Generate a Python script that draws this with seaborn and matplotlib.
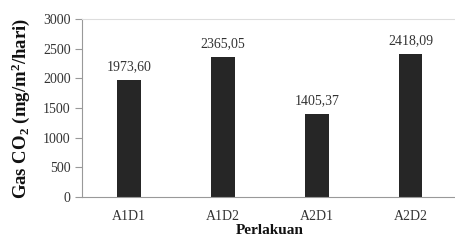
import matplotlib
matplotlib.use("Agg")
import matplotlib.pyplot as plt
import seaborn as sns
import pandas as pd

categories = ["A1D1", "A1D2", "A2D1", "A2D2"]
values = [1973.60, 2365.05, 1405.37, 2418.09]
labels = ["1973,60", "2365,05", "1405,37", "2418,09"]
yticks = [0, 500, 1000, 1500, 2000, 2500, 3000]

sns.set_theme(style="white")
plt.rcParams['font.family'] = ['Liberation Serif', 'DejaVu Serif']
plt.rcParams['mathtext.fontset'] = 'custom'
plt.rcParams['mathtext.rm'] = 'Liberation Serif'
plt.rcParams['mathtext.bf'] = 'Liberation Serif:bold'
plt.rcParams['mathtext.it'] = 'Liberation Serif:italic'

df = pd.DataFrame({"cat": categories, "val": values})

fig = plt.figure(figsize=(4.55, 2.40), dpi=100)
ax = fig.add_axes([0.18, 0.179, 0.826, 0.742])
sns.barplot(data=df, x="cat", y="val", color="#262626", width=0.25, ax=ax,
            saturation=1, edgecolor="none")

for i, (v, t) in enumerate(zip(values, labels)):
    ax.text(i, v + 110, t, ha="center", va="bottom", fontsize=10, color="#333333")

ax.set_ylim(0, 3000)
ax.set_yticks(yticks)
ax.set_yticklabels([str(t) for t in yticks], fontsize=10, color="#333333")
ax.tick_params(axis="x", labelsize=10, colors="#333333", length=0, pad=9)
ax.tick_params(axis="y", length=5, width=0.8, color="#999999", pad=3, left=True)
ax.set_xlabel("Perlakuan", fontsize=11, fontweight="bold", labelpad=1, color="#111111")
ax.set_ylabel(r"Gas CO$_\mathbf{2}$ (mg/m$^\mathbf{2}$/hari)", fontsize=13.5,
              fontweight="bold", labelpad=8, color="#111111")

for s in ["left", "bottom"]:
    ax.spines[s].set_color("#999999")
    ax.spines[s].set_linewidth(0.8)
ax.spines["top"].set_color("#dddddd")
ax.spines["top"].set_linewidth(0.8)
ax.spines["right"].set_visible(False)

fig.savefig("out.png", dpi=100, facecolor="white")
